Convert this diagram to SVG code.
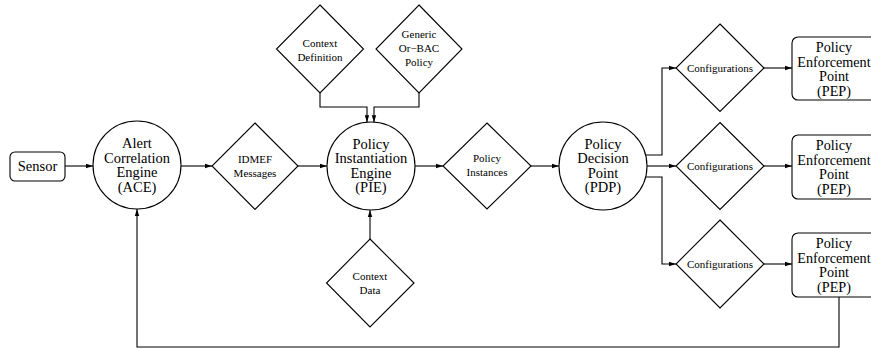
<svg xmlns="http://www.w3.org/2000/svg" width="871" height="349" viewBox="0 0 871 349">
<style>
.shape{fill:#fff;stroke:#000;stroke-width:1.1}
.conn{fill:none;stroke:#000;stroke-width:1.1}
.big{font-family:"Liberation Serif","Times New Roman",serif;font-size:14.5px;text-anchor:middle;fill:#000}
.pep{font-family:"Liberation Serif","Times New Roman",serif;font-size:14.2px;text-anchor:middle;fill:#000}
.small{font-family:"Liberation Serif","Times New Roman",serif;font-size:11px;text-anchor:middle;fill:#000}
</style>
<defs>
<marker id="arr" markerUnits="userSpaceOnUse" markerWidth="7" markerHeight="6" refX="7" refY="3" orient="auto">
<path d="M0,0.8 L7,3 L0,5.2 z" fill="#000"/>
</marker>
</defs>
<rect width="871" height="349" fill="#fff"/>
<g id="connectors">
<path class="conn" d="M65,166 H93" marker-end="url(#arr)"/>
<path class="conn" d="M181,166 H212" marker-end="url(#arr)"/>
<path class="conn" d="M298,166 H327" marker-end="url(#arr)"/>
<path class="conn" d="M415,166 H443" marker-end="url(#arr)"/>
<path class="conn" d="M531,166 H559" marker-end="url(#arr)"/>
<path class="conn" d="M320,93 V107 H367 V122.3" marker-end="url(#arr)"/>
<path class="conn" d="M419,93 V107 H374 V122.3" marker-end="url(#arr)"/>
<path class="conn" d="M370,239 V210" marker-end="url(#arr)"/>
<path class="conn" d="M645.6,155 H662 V68 H676" marker-end="url(#arr)"/>
<path class="conn" d="M647,166 H676" marker-end="url(#arr)"/>
<path class="conn" d="M645.6,177 H662 V264 H676" marker-end="url(#arr)"/>
<path class="conn" d="M764,68 H792" marker-end="url(#arr)"/>
<path class="conn" d="M764,166 H792" marker-end="url(#arr)"/>
<path class="conn" d="M764,264 H792" marker-end="url(#arr)"/>
<path class="conn" d="M839,297 V347 H137 V209" marker-end="url(#arr)"/>
</g>
<g id="sensor">
<rect class="shape" x="10" y="152" width="55" height="29" rx="5"/>
<text class="big" x="37.5" y="171">Sensor</text>
</g>
<g id="ace">
<circle class="shape" cx="137" cy="165" r="44"/>
<text class="big" x="137" y="148">Alert</text>
<text class="big" x="137" y="162.5">Correlation</text>
<text class="big" x="137" y="177">Engine</text>
<text class="big" x="137" y="191.5">(ACE)</text>
</g>
<g id="idmef">
<polygon class="shape" points="255,123 298,166 255,209.5 212,166"/>
<text class="small" x="255" y="163">IDMEF</text>
<text class="small" x="255" y="177">Messages</text>
</g>
<g id="pie">
<circle class="shape" cx="371" cy="166" r="44"/>
<text class="big" x="371" y="148.5">Policy</text>
<text class="big" x="371" y="163">Instantiation</text>
<text class="big" x="371" y="177.5">Engine</text>
<text class="big" x="371" y="192">(PIE)</text>
</g>
<g id="context-definition">
<polygon class="shape" points="320,5 363.5,49 320,93 276.5,49"/>
<text class="small" x="320" y="47">Context</text>
<text class="small" x="320" y="60.5">Definition</text>
</g>
<g id="generic-orbac">
<polygon class="shape" points="419,5 462,49 419,93 376,49"/>
<text class="small" x="419" y="38">Generic</text>
<text class="small" x="419" y="52">Or−BAC</text>
<text class="small" x="419" y="66">Policy</text>
</g>
<g id="context-data">
<polygon class="shape" points="370,239 414,283 370,327 326.5,283"/>
<text class="small" x="370" y="280">Context</text>
<text class="small" x="370" y="294">Data</text>
</g>
<g id="policy-instances">
<polygon class="shape" points="487,123 531,166 487,209 443,166"/>
<text class="small" x="487" y="162">Policy</text>
<text class="small" x="487" y="176">Instances</text>
</g>
<g id="pdp">
<circle class="shape" cx="603" cy="166" r="44"/>
<text class="big" x="603" y="148.5">Policy</text>
<text class="big" x="603" y="163">Decision</text>
<text class="big" x="603" y="177.5">Point</text>
<text class="big" x="603" y="192">(PDP)</text>
</g>
<g id="config1">
<polygon class="shape" points="720,24 764,68 720,111.5 676,68"/>
<text class="small" x="720" y="71.5">Configurations</text>
</g>
<g id="config2">
<polygon class="shape" points="720,122.5 764,166 720,209.5 676,166"/>
<text class="small" x="720" y="169.5">Configurations</text>
</g>
<g id="config3">
<polygon class="shape" points="720,220 764,264 720,308 676,264"/>
<text class="small" x="720" y="267.5">Configurations</text>
</g>
<g id="pep1">
<rect class="shape" x="792" y="37" width="100" height="63" rx="6"/>
<text class="pep" x="834" y="52">Policy</text>
<text class="pep" x="834" y="66.5">Enforcement</text>
<text class="pep" x="834" y="81">Point</text>
<text class="pep" x="834" y="95.5">(PEP)</text>
</g>
<g id="pep2">
<rect class="shape" x="792" y="135" width="100" height="64" rx="6"/>
<text class="pep" x="834" y="150">Policy</text>
<text class="pep" x="834" y="164.5">Enforcement</text>
<text class="pep" x="834" y="179">Point</text>
<text class="pep" x="834" y="193.5">(PEP)</text>
</g>
<g id="pep3">
<rect class="shape" x="792" y="233" width="100" height="64" rx="6"/>
<text class="pep" x="834" y="248">Policy</text>
<text class="pep" x="834" y="262.5">Enforcement</text>
<text class="pep" x="834" y="277">Point</text>
<text class="pep" x="834" y="291.5">(PEP)</text>
</g>
</svg>
